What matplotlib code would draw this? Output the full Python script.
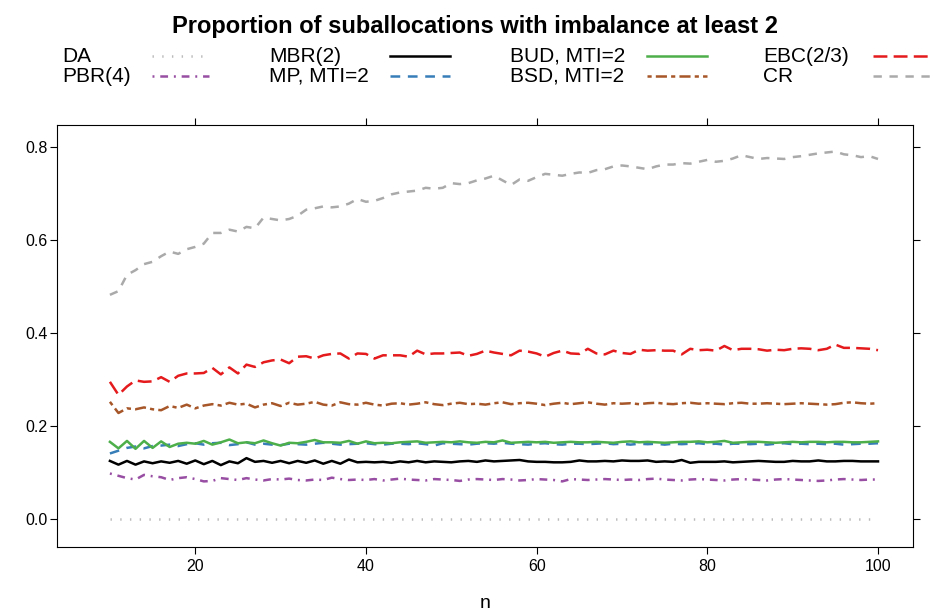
import matplotlib
matplotlib.use("Agg")
import matplotlib.pyplot as plt
from matplotlib.lines import Line2D

plt.rcParams['font.family'] = ['Liberation Sans', 'DejaVu Sans']
plt.rcParams['lines.scale_dashes'] = False

# subset sizes
n = list(range(10, 101))

da = [0.0, 0.0, 0.0, 0.0, 0.0, 0.0, 0.0, 0.0, 0.0, 0.0,
      0.0, 0.0, 0.0, 0.0, 0.0, 0.0, 0.0, 0.0, 0.0, 0.0,
      0.0, 0.0, 0.0, 0.0, 0.0, 0.0, 0.0, 0.0, 0.0, 0.0,
      0.0, 0.0, 0.0, 0.0, 0.0, 0.0, 0.0, 0.0, 0.0, 0.0,
      0.0, 0.0, 0.0, 0.0, 0.0, 0.0, 0.0, 0.0, 0.0, 0.0,
      0.0, 0.0, 0.0, 0.0, 0.0, 0.0, 0.0, 0.0, 0.0, 0.0,
      0.0, 0.0, 0.0, 0.0, 0.0, 0.0, 0.0, 0.0, 0.0, 0.0,
      0.0, 0.0, 0.0, 0.0, 0.0, 0.0, 0.0, 0.0, 0.0, 0.0,
      0.0, 0.0, 0.0, 0.0, 0.0, 0.0, 0.0, 0.0, 0.0, 0.0,
      0.0]

pbr = [.098, .093, .088, .085, .095, .092, .090, .084, .088, .090,
       .086, .081, .082, .088, .086, .084, .088, .085, .083, .086,
       .085, .087, .084, .083, .085, .084, .089, .086, .084, .085,
       .084, .086, .083, .085, .087, .085, .084, .083, .086, .085,
       .084, .082, .085, .086, .085, .084, .086, .085, .083, .084,
       .086, .085, .084, .081, .086, .085, .084, .085, .086, .085,
       .084, .085, .084, .086, .087, .085, .084, .083, .085, .086,
       .085, .084, .083, .085, .086, .085, .084, .083, .085, .086,
       .085, .084, .083, .082, .083, .085, .086, .085, .084, .085,
       .085]

mbr = [.125, .117, .125, .117, .124, .120, .124, .121, .125, .119,
       .126, .118, .125, .116, .124, .120, .131, .123, .125, .121,
       .125, .120, .125, .121, .126, .119, .125, .119, .128, .122,
       .123, .122, .123, .121, .124, .122, .125, .122, .124, .123,
       .122, .124, .125, .123, .126, .124, .125, .126, .127, .124,
       .123, .123, .122, .122, .123, .126, .124, .124, .125, .124,
       .126, .125, .125, .126, .123, .124, .123, .127, .121, .123,
       .123, .123, .124, .122, .123, .124, .125, .124, .123, .123,
       .125, .124, .124, .126, .124, .124, .125, .125, .124, .124,
       .124]

mp = [.141, .147, .153, .156, .152, .157, .158, .160, .157, .161,
      .163, .160, .163, .164, .159, .161, .165, .160, .162, .160,
      .159, .162, .161, .160, .162, .164, .162, .160, .161, .162,
      .163, .161, .160, .162, .162, .161, .163, .161, .158, .163,
      .162, .161, .160, .162, .163, .162, .164, .162, .161, .160,
      .162, .163, .161, .160, .162, .162, .161, .162, .163, .161,
      .162, .160, .162, .161, .162, .160, .162, .161, .162, .163,
      .161, .162, .160, .162, .162, .161, .162, .160, .162, .163,
      .161, .162, .161, .162, .161, .162, .160, .161, .162, .162,
      .163]

bud = [.166, .152, .168, .151, .168, .153, .167, .155, .162, .164,
       .162, .168, .160, .165, .171, .163, .165, .163, .169, .163,
       .158, .164, .163, .166, .170, .165, .165, .164, .168, .162,
       .167, .163, .164, .163, .165, .166, .167, .164, .165, .166,
       .165, .167, .165, .164, .166, .165, .169, .164, .165, .166,
       .165, .166, .164, .165, .166, .165, .165, .166, .165, .164,
       .166, .167, .165, .166, .165, .164, .165, .166, .166, .167,
       .165, .166, .168, .164, .165, .166, .166, .165, .164, .165,
       .166, .165, .166, .166, .165, .166, .166, .165, .165, .166,
       .167]

bsd = [.252, .228, .238, .236, .240, .236, .234, .243, .239, .246,
       .238, .244, .247, .244, .250, .246, .248, .240, .246, .249,
       .243, .250, .246, .248, .252, .246, .244, .251, .247, .246,
       .250, .246, .244, .248, .249, .246, .248, .251, .247, .245,
       .248, .250, .247, .248, .246, .249, .251, .247, .249, .250,
       .248, .245, .248, .250, .247, .249, .251, .248, .246, .249,
       .248, .249, .247, .249, .250, .248, .247, .249, .250, .248,
       .249, .248, .247, .249, .250, .248, .248, .249, .248, .247,
       .248, .249, .248, .247, .246, .247, .250, .251, .249, .248,
       .249]

ebc = [.295, .267, .285, .298, .295, .296, .305, .295, .308, .313,
       .313, .314, .325, .311, .326, .313, .332, .327, .337, .341,
       .343, .335, .349, .350, .345, .352, .355, .356, .345, .356,
       .355, .345, .352, .352, .352, .349, .362, .354, .356, .356,
       .357, .358, .351, .355, .362, .358, .355, .352, .362, .360,
       .356, .349, .357, .362, .356, .355, .366, .356, .354, .362,
       .357, .355, .364, .362, .363, .362, .362, .354, .366, .363,
       .364, .362, .372, .363, .366, .366, .365, .362, .364, .363,
       .366, .367, .366, .363, .366, .375, .368, .368, .367, .366,
       .363]

cr = [.482, .490, .525, .535, .548, .553, .565, .575, .570, .580,
      .585, .592, .615, .615, .622, .618, .628, .625, .648, .645,
      .642, .645, .652, .665, .668, .672, .670, .672, .678, .688,
      .682, .684, .690, .698, .702, .704, .706, .712, .710, .712,
      .722, .720, .722, .728, .732, .738, .728, .718, .730, .727,
      .735, .742, .740, .738, .742, .745, .744, .750, .752, .758,
      .760, .758, .755, .752, .758, .762, .762, .765, .764, .768,
      .772, .768, .770, .775, .782, .778, .774, .776, .775, .774,
      .778, .780, .783, .786, .788, .790, .784, .782, .778, .780,
      .774]

labels = ['DA', 'PBR(4)', 'MBR(2)', 'MP, MTI=2', 'BUD, MTI=2', 'BSD, MTI=2', 'EBC(2/3)', 'CR']
series = [da, pbr, mbr, mp, bud, bsd, ebc, cr]
colors = ['#BBBBBB', '#984EA3', '#000000', '#377EB8', '#4DAF4A', '#A65628', '#E41A1C', '#AAAAAA']
styles = [(0, (1, 6)), (0, (1.4, 4.2, 5.6, 4.2)), '-', (0, (7, 5.5)), '-',
          (0, (3, 3, 8, 3)), (0, (10, 4.5)), (0, (6, 5.5))]

fig = plt.figure(figsize=(9.3, 6.13), dpi=100)
ax = fig.add_axes([57 / 930, 66 / 613, 856 / 930, 422 / 613])

for vals, col, ls in zip(series, colors, styles):
    ax.plot(n, vals, color=col, linestyle=ls, linewidth=1.8)

ax.set_xlim(3.8, 104.1)
ax.set_ylim(-0.060, 0.847)
ax.set_xticks([20, 40, 60, 80, 100])
ax.set_yticks([0.0, 0.2, 0.4, 0.6, 0.8])
ax.set_yticklabels(['0.0', '0.2', '0.4', '0.6', '0.8'])
ax.tick_params(direction='out', length=5, width=0.8, labelsize=11.5,
               top=True, right=True, labeltop=False, labelright=False)
ax.tick_params(axis='y', pad=2)
for s in ax.spines.values():
    s.set_linewidth(0.8)
ax.set_xlabel('n', fontsize=14, labelpad=15)

fig.text(475 / 930, 1 - 27 / 613, 'Proportion of suballocations with imbalance at least 2',
         ha='center', va='center', fontsize=17, fontweight='bold')

# legend key: 4 columns x 2 rows, text then line sample
text_x = [62, 269, 510, 763]
line_x = [(152, 209), (390, 450), (647, 707), (873, 930)]
row_y = [56, 76]
for i, (lab, col, ls) in enumerate(zip(labels, colors, styles)):
    c, r = i // 2, i % 2
    yy = 1 - row_y[r] / 613
    fig.text(text_x[c] / 930, yy, lab, ha='left', va='center', fontsize=15)
    x0, x1 = line_x[c]
    fig.add_artist(Line2D([x0 / 930, x1 / 930], [yy, yy], color=col, linestyle=ls,
                          linewidth=1.8, transform=fig.transFigure))

fig.savefig('out.png', dpi=100)
